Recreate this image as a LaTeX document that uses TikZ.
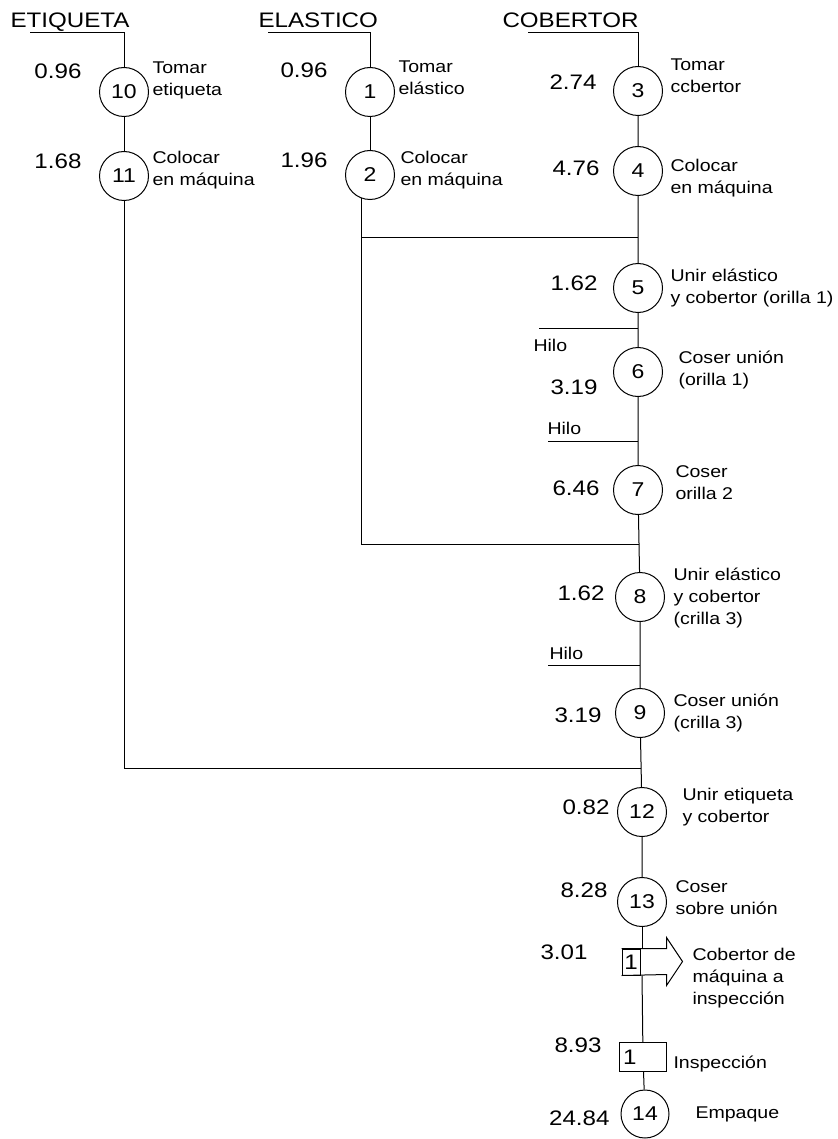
\documentclass[tikz,border=0pt]{standalone}
\usepackage{fontspec}
\setmainfont{Liberation Sans}[FakeStretch=1.15]
\usepackage{tikz}
\usetikzlibrary{positioning,calc}

\begin{document}
\begin{tikzpicture}[
  x=1pt, y=-1pt,
  line width=1pt,
  op/.style={circle, draw, minimum size=49pt, inner sep=0pt,
             font=\fontsize{20}{24}\selectfont},
  tm/.style={anchor=base east, inner sep=0pt, yshift=-7.5pt,
             font=\fontsize{21}{25}\selectfont},
  lbl/.style={anchor=north west, inner sep=0pt, align=left, yshift=9.4pt,
              font=\fontsize{17}{22}\selectfont,
              execute at begin node=\strut},
  hdr/.style={anchor=base west, inner sep=0pt,
              font=\fontsize{21}{25}\selectfont},
  nbox/.style={draw, minimum width=18pt, minimum height=26pt, inner sep=0pt,
               font=\fontsize{21}{25}\selectfont},
  insbox/.style={draw, minimum height=29pt, text width=40pt, inner xsep=3.5pt,
                 inner ysep=0pt, align=left, font=\fontsize{21}{25}\selectfont},
]
  \useasboundingbox (0,0) rectangle (837,1139);

  % material headers
  \node[hdr] (hEtiq) at (10,27.5) {ETIQUETA};
  \node[hdr] (hElas) at (258,27.5) {ELASTICO};
  \node[hdr] (hCob)  at (502,27.5) {COBERTOR};
  \coordinate (ulEtiq) at (30,33);
  \coordinate (ulElas) at (268,33);
  \coordinate (ulCob)  at (528,33);

  % etiqueta branch
  \node[op] (o10) at (124,92) {10};
  \node[op] (o11) at (124,176) {11};
  \node[tm] (t10) at (82,71) {0.96};
  \node[tm] (t11) at (82,161) {1.68};
  \node[lbl] (l10) at (152,71) {Tomar\\etiqueta};
  \node[lbl] (l11) at (152,160) {Colocar\\en máquina};

  % elastico branch
  \node[op] (o1) at (370,92) {1};
  \node[op] (o2) at (370,175) {2};
  \node[tm] (t1) at (328,70) {0.96};
  \node[tm] (t2) at (328,160) {1.96};
  \node[lbl] (l1) at (398,70) {Tomar\\elástico};
  \node[lbl] (l2) at (400,160) {Colocar\\en máquina};

  % cobertor, main line
  \node[op] (o3)  at (638,91)  {3};
  \node[op] (o4)  at (638,171) {4};
  \node[op] (o5)  at (638,288) {5};
  \node[op] (o6)  at (638,372) {6};
  \node[op] (o7)  at (638,490) {7};
  \node[op] (o8)  at (640,597) {8};
  \node[op] (o9)  at (640,713) {9};
  \node[op] (o12) at (642,812) {12};
  \node[op] (o13) at (642,902) {13};
  \node[op, minimum size=48pt] (o14) at (645,1114) {14};

  \node[tm] (t3)  at (597,82)  {2.74};
  \node[tm] (t4)  at (600,168) {4.76};
  \node[tm] (t5)  at (598,283) {1.62};
  \node[tm] (t6)  at (598,387) {3.19};
  \node[tm] (t7)  at (600,488) {6.46};
  \node[tm] (t8)  at (605,593) {1.62};
  \node[tm] (t9)  at (602,715) {3.19};
  \node[tm] (t12) at (610,807) {0.82};
  \node[tm] (t13) at (608,890) {8.28};
  \node[tm] (tTr) at (588,952) {3.01};
  \node[tm] (tIn) at (602,1045) {8.93};
  \node[tm] (t14) at (610,1118) {24.84};

  \node[lbl] (l3)  at (670,68)  {Tomar\\ccbertor};
  \node[lbl] (l4)  at (670,168) {Colocar\\en máquina};
  \node[lbl] (l5)  at (670,278) {Unir elástico\\y cobertor (orilla 1)};
  \node[lbl] (l6)  at (678,360) {Coser unión\\(orilla 1)};
  \node[lbl] (l7)  at (675,475) {Coser\\orilla 2};
  \node[lbl] (l8)  at (673,577) {Unir elástico\\y cobertor\\(crilla 3)};
  \node[lbl] (l9)  at (673,703) {Coser unión\\(crilla 3)};
  \node[lbl] (l12) at (682,797) {Unir etiqueta\\y cobertor};
  \node[lbl] (l13) at (675,890) {Coser\\sobre unión};

  % transport and inspection
  \node[nbox] (tr1) at (631,962) {1};
  \draw (tr1.north west) -- ++(45,0) -- ++(0,-11) -- ++(16,24) -- ++(-16,24)
        -- ++(0,-11) -- (tr1.south west);
  \node[lbl] (lTr) at (692,957) {Cobertor de\\máquina a\\inspección};
  \node[insbox] (in1) at (643,1057) {1};
  \node[lbl] (lIn) at (673,1062) {Inspección};
  \node[lbl] (l14) at (695,1112) {Empaque};

  % joins on the main line
  \coordinate (ja) at (638,238);
  \coordinate (jb) at (639,544);
  \coordinate (jc) at (641,768);

  % thread inputs
  \coordinate (hilo1) at (539,328);
  \coordinate (hilo2) at (548,441);
  \coordinate (hilo3) at (548,665);
  \node[lbl] (lh1) at (533,345) {Hilo};
  \node[lbl] (lh2) at (547,428) {Hilo};
  \node[lbl] (lh3) at (549,653) {Hilo};
  \draw (hilo1) -- (hilo1 -| o5);
  \draw (hilo2) -- (hilo2 -| o7);
  \draw (hilo3) -- (hilo3 -| o9);

  % connectors
  \draw (ulEtiq) -| (o10);
  \draw (ulElas) -| (o1);
  \draw (ulCob) -| (o3);
  \draw (o10) -- (o11);
  \draw (o11) |- (jc);
  \draw (o1) -- (o2);
  \draw (o2.-110) |- (jb);
  \draw (o2.-110 |- ja) -- (ja);
  \draw (o3) -- (o4) -- (o5) -- (o6) -- (o7) -- (o8) -- (o9) -- (o12) -- (o13);
  \draw (o13) -- (o13 |- tr1.north);
  \draw (o13 |- tr1.south) -- (in1);
  \draw (in1) -- (o14);
\end{tikzpicture}
\end{document}
